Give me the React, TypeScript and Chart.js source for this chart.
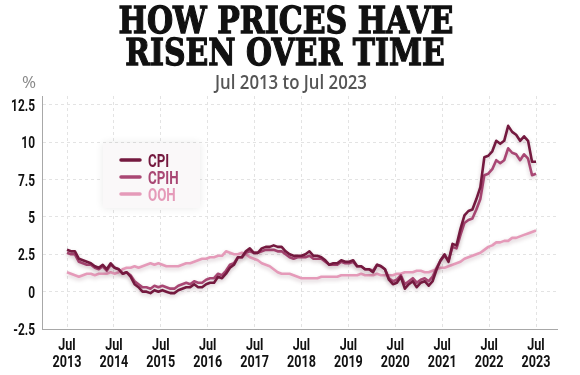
import React, { useEffect, useLayoutEffect, useRef } from "react";
import { Chart, registerables } from "chart.js";

Chart.register(...registerables);

const TITLE_LINES = ["HOW PRICES HAVE", "RISEN OVER TIME"];
const SUBTITLE = "Jul 2013 to Jul 2023";
const UNIT = "%";
const TICK_MONTH = "Jul";
const TICK_YEARS = ["2013", "2014", "2015", "2016", "2017", "2018", "2019", "2020", "2021", "2022", "2023"];
const Y_TICKS = [-2.5, 0, 2.5, 5, 7.5, 10, 12.5];
const SERIES_NAMES = ["CPI", "CPIH", "OOH"];
const SERIES_COLORS = ["#74193f", "#a94774", "#e59ab9"];

// Monthly 12-month rates, Jul 2013 .. May 2023
const CPI = [
  2.8, 2.7, 2.7, 2.2, 2.1, 2.0,
  1.9, 1.7, 1.6, 1.8, 1.5, 1.9, 1.6, 1.5, 1.2, 1.3, 1.0, 0.5,
  0.3, 0.0, 0.0, -0.1, 0.1, 0.0, 0.1, 0.0, -0.1, -0.1, 0.1, 0.2,
  0.3, 0.3, 0.5, 0.3, 0.3, 0.5, 0.6, 0.6, 1.0, 0.9, 1.2, 1.6,
  1.8, 2.3, 2.3, 2.7, 2.9, 2.6, 2.6, 2.9, 3.0, 3.0, 3.1, 3.0,
  3.0, 2.7, 2.5, 2.4, 2.4, 2.4, 2.5, 2.7, 2.4, 2.4, 2.3, 2.1,
  1.8, 1.9, 1.9, 2.1, 2.0, 2.0, 2.1, 1.7, 1.7, 1.5, 1.5, 1.3,
  1.8, 1.7, 1.5, 0.8, 0.5, 0.6, 1.0, 0.2, 0.5, 0.7, 0.3, 0.6,
  0.7, 0.4, 0.7, 1.5, 2.1, 2.5, 2.0, 3.2, 3.1, 4.2, 5.1, 5.4,
  5.5, 6.2, 7.0, 9.0, 9.1, 9.4, 10.1, 9.9, 10.1, 11.1, 10.7, 10.5,
  10.1, 10.4, 10.1, 8.7, 8.7,
];

const CPIH = [
  2.6, 2.5, 2.5, 2.0, 1.9, 1.8,
  1.8, 1.6, 1.5, 1.7, 1.4, 1.8, 1.6, 1.5, 1.2, 1.3, 1.1, 0.7,
  0.5, 0.3, 0.3, 0.2, 0.4, 0.3, 0.4, 0.3, 0.2, 0.2, 0.4, 0.5,
  0.6, 0.5, 0.7, 0.6, 0.6, 0.8, 0.9, 0.9, 1.2, 1.1, 1.4, 1.8,
  1.9, 2.3, 2.3, 2.6, 2.7, 2.6, 2.6, 2.7, 2.8, 2.8, 2.8, 2.7,
  2.7, 2.5, 2.3, 2.2, 2.3, 2.3, 2.3, 2.4, 2.2, 2.2, 2.2, 2.0,
  1.8, 1.8, 1.8, 2.0, 1.9, 1.9, 2.0, 1.7, 1.7, 1.5, 1.5, 1.4,
  1.8, 1.7, 1.5, 0.9, 0.7, 0.8, 1.1, 0.5, 0.7, 0.9, 0.6, 0.8,
  0.9, 0.7, 1.0, 1.6, 2.1, 2.4, 2.1, 3.0, 2.9, 3.8, 4.6, 4.8,
  4.9, 5.5, 6.2, 7.8, 7.9, 8.2, 8.8, 8.6, 8.8, 9.6, 9.3, 9.2,
  8.8, 9.2, 8.9, 7.8, 7.9,
];

const OOH = [
  1.3, 1.2, 1.1, 1.0, 1.1, 1.2, 1.2, 1.1, 1.2, 1.2, 1.2, 1.3,
  1.2, 1.3, 1.5, 1.6, 1.6, 1.7, 1.6, 1.7, 1.8, 1.9, 1.8, 1.9,
  1.8, 1.7, 1.7, 1.7, 1.7, 1.8, 1.9, 1.9, 2.0, 2.1, 2.2, 2.2,
  2.3, 2.3, 2.4, 2.4, 2.7, 2.6, 2.5, 2.5, 2.6, 2.5, 2.3, 2.2,
  2.1, 1.9, 1.8, 1.7, 1.5, 1.3, 1.2, 1.2, 1.2, 1.1, 1.0, 0.9,
  0.9, 0.9, 0.9, 0.9, 1.0, 1.0, 1.0, 1.0, 1.0, 1.1, 1.1, 1.1,
  1.1, 1.1, 1.2, 1.1, 1.1, 1.1, 1.2, 1.1, 1.1, 1.1, 1.1, 1.2,
  1.2, 1.3, 1.3, 1.3, 1.4, 1.4, 1.3, 1.3, 1.4, 1.5, 1.6, 1.6,
  1.7, 1.8, 1.9, 2.0, 2.2, 2.3, 2.4, 2.5, 2.6, 2.8, 3.0, 3.1,
  3.3, 3.3, 3.4, 3.4, 3.6, 3.6, 3.7, 3.8, 3.9, 4.0, 4.1,
];

const SERIES_VALUES = [CPI, CPIH, OOH];

const LABEL_FONT = "Roboto, 'DejaVu Sans', sans-serif";

type FitProps = {
  text: string;
  cx: number;
  top: number;
  width: number;
  fontSize: number;
  fontFamily: string;
  fontWeight: number | string;
  color: string;
  stroke?: string;
};

function FitLine({ text, cx, top, width, fontSize, fontFamily, fontWeight, color, stroke }: FitProps) {
  const ref = useRef<HTMLDivElement>(null);
  useLayoutEffect(() => {
    const fit = () => {
      const el = ref.current;
      if (!el) return;
      const w = el.offsetWidth;
      if (w > 0) el.style.transform = `translateX(-50%) scaleX(${width / w})`;
    };
    fit();
    const f = (document as any).fonts;
    if (f && f.ready) f.ready.then(fit);
  }, [text, width]);
  return (
    <div
      ref={ref}
      style={{
        position: "absolute",
        left: cx,
        top,
        whiteSpace: "nowrap",
        fontSize,
        lineHeight: `${fontSize}px`,
        fontFamily,
        fontWeight,
        color,
        WebkitTextStroke: stroke,
        transform: "translateX(-50%)",
      }}
    >
      {text}
    </div>
  );
}

function drawNarrow(ctx: CanvasRenderingContext2D, text: string, x: number, y: number, align: CanvasTextAlign, sx: number) {
  ctx.save();
  ctx.translate(x, y);
  ctx.scale(sx, 1);
  ctx.textAlign = align;
  ctx.textBaseline = "alphabetic";
  ctx.fillText(text, 0, 0);
  ctx.restore();
}

const shadowPlugin = {
  id: "lineShadow",
  beforeDatasetDraw(chart: any) {
    const c = chart.ctx;
    c.save();
    c.shadowColor = "rgba(70,10,30,0.22)";
    c.shadowBlur = 4;
    c.shadowOffsetY = 2;
  },
  afterDatasetDraw(chart: any) {
    chart.ctx.restore();
  },
};

const narrowTicksPlugin = {
  id: "narrowTicks",
  afterDraw(chart: any) {
    const ctx = chart.ctx as CanvasRenderingContext2D;
    const xs = chart.scales.x;
    const ys = chart.scales.y;
    const a = chart.chartArea;
    ctx.save();
    ctx.fillStyle = "#111";
    ctx.font = `bold 17px ${LABEL_FONT}`;
    xs.ticks.forEach((t: any, idx: number) => {
      const px = xs.getPixelForValue(t.value);
      drawNarrow(ctx, TICK_MONTH, px, a.bottom + 21, "center", 0.74);
      drawNarrow(ctx, TICK_YEARS[idx], px, a.bottom + 38, "center", 0.74);
    });
    ys.ticks.forEach((t: any) => {
      const py = ys.getPixelForValue(t.value);
      drawNarrow(ctx, String(t.value), a.left - 7, py + 6, "right", 0.7);
    });
    ctx.restore();
  },
};

const boxLegendPlugin = {
  id: "boxLegend",
  afterDraw(chart: any) {
    const ctx = chart.ctx as CanvasRenderingContext2D;
    const a = chart.chartArea;
    const bx = a.left + 61;
    const by = a.top + 47;
    const bw = 97;
    const bh = 65;
    ctx.save();
    ctx.shadowColor = "rgba(0,0,0,0.09)";
    ctx.shadowBlur = 8;
    ctx.fillStyle = "#faf8f9";
    ctx.fillRect(bx, by, bw, bh);
    ctx.restore();
    ctx.save();
    SERIES_NAMES.forEach((name, i) => {
      const y = by + 17 + i * 17;
      ctx.strokeStyle = SERIES_COLORS[i];
      ctx.lineWidth = 3.5;
      ctx.lineCap = "round";
      ctx.beginPath();
      ctx.moveTo(bx + 18, y);
      ctx.lineTo(bx + 37, y);
      ctx.stroke();
      ctx.fillStyle = SERIES_COLORS[i];
      ctx.font = `bold 19px ${LABEL_FONT}`;
      drawNarrow(ctx, name, bx + 45, y + 7, "left", 0.7);
    });
    ctx.restore();
  },
};

export default function App() {
  const canvasRef = useRef<HTMLCanvasElement>(null);

  useEffect(() => {
    document.body.style.margin = "0";
    const canvas = canvasRef.current;
    if (!canvas) return;
    const n = CPI.length;
    const tickStep = (n - 1) / (TICK_YEARS.length - 1);
    const pxPerUnit = 469 / (n - 1);
    const xMin = -25 / pxPerUnit;
    const xMax = n - 1 + 21 / pxPerUnit;

    const chart = new Chart(canvas, {
      type: "line",
      data: {
        datasets: SERIES_NAMES.map((name, s) => ({
          label: name,
          data: SERIES_VALUES[s].map((y, i) => ({ x: i, y })),
          borderColor: SERIES_COLORS[s],
          backgroundColor: SERIES_COLORS[s],
          borderWidth: 2.6,
          pointRadius: 0,
          tension: 0,
          borderJoinStyle: "round" as const,
        })),
      },
      options: {
        animation: false,
        responsive: false,
        maintainAspectRatio: false,
        layout: { padding: { top: 96, right: 23, left: 0, bottom: 0 } },
        plugins: {
          legend: { display: false },
          tooltip: { enabled: false },
        },
        scales: {
          x: {
            type: "linear",
            min: xMin,
            max: xMax,
            afterFit: (s: any) => {
              s.height = 46;
            },
            afterBuildTicks: (s: any) => {
              s.ticks = TICK_YEARS.map((_, k) => ({ value: k * tickStep }));
            },
            ticks: { display: false, autoSkip: false },
            grid: { color: "#e3e3e3", lineWidth: 1, drawTicks: false },
            border: { color: "#a8a8a8", width: 1, dash: [3, 3] },
          },
          y: {
            type: "linear",
            min: -2.5,
            max: 13.1,
            afterFit: (s: any) => {
              s.width = 42;
            },
            afterBuildTicks: (s: any) => {
              s.ticks = Y_TICKS.map((v) => ({ value: v }));
            },
            ticks: { display: false },
            grid: { color: "#e3e3e3", lineWidth: 1, drawTicks: false },
            border: { color: "#a8a8a8", width: 1, dash: [3, 3] },
          },
        },
      },
      plugins: [shadowPlugin, narrowTicksPlugin, boxLegendPlugin],
    } as any);

    return () => chart.destroy();
  }, []);

  return (
    <div style={{ position: "relative", width: 580, height: 375, background: "#fff", overflow: "hidden" }}>
      <canvas ref={canvasRef} width={580} height={375} style={{ position: "absolute", left: 0, top: 0 }} />
      <FitLine text={TITLE_LINES[0]} cx={285.5} top={1} width={335} fontSize={38} fontFamily="'DejaVu Serif', serif" fontWeight={900} color="#111" stroke="1.3px #111" />
      <FitLine text={TITLE_LINES[1]} cx={285} top={33} width={320} fontSize={38} fontFamily="'DejaVu Serif', serif" fontWeight={900} color="#111" stroke="1.3px #111" />
      <FitLine text={SUBTITLE} cx={291} top={72} width={152} fontSize={20} fontFamily="'Open Sans', sans-serif" fontWeight={600} color="#555" />
      <div style={{ position: "absolute", left: 22, top: 73, fontSize: 17, lineHeight: "17px", fontFamily: "'Open Sans', sans-serif", color: "#888" }}>{UNIT}</div>
    </div>
  );
}
